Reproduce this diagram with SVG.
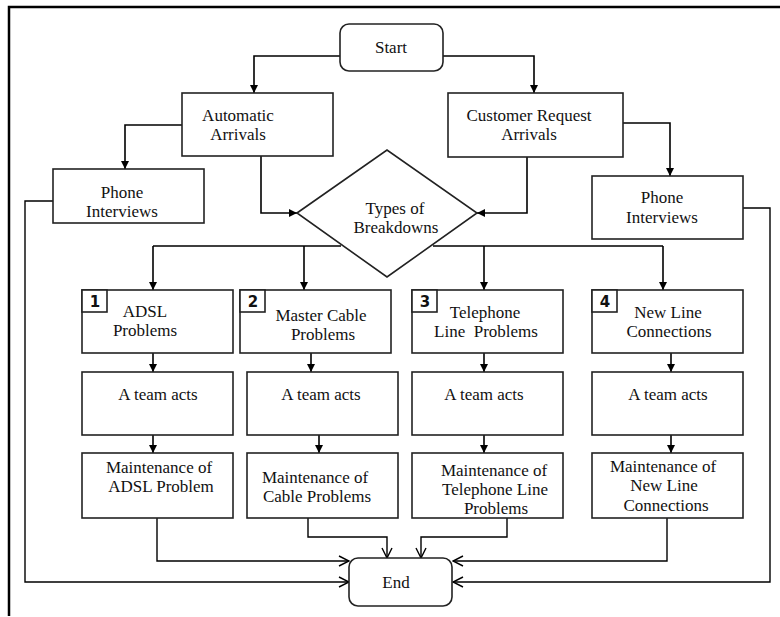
<svg xmlns="http://www.w3.org/2000/svg" width="780" height="617" viewBox="0 0 780 617">
<style>
.box{fill:#fff;stroke:#222;stroke-width:1.6}
.t{font-family:"Liberation Serif","Times New Roman",serif;font-size:17px;fill:#111;text-anchor:middle}
.num{font-family:"DejaVu Sans","Liberation Sans",sans-serif;font-weight:bold;font-size:15px;fill:#111;text-anchor:middle}
.c{fill:none;stroke:#000;stroke-width:1.6}
.ca{fill:none;stroke:#000;stroke-width:1.6;marker-end:url(#fa)}
.co{fill:none;stroke:#000;stroke-width:1.4;marker-end:url(#oa)}
</style>
<defs>
<marker id="fa" viewBox="0 0 10 10" refX="10" refY="5" markerWidth="9" markerHeight="8" orient="auto" markerUnits="userSpaceOnUse"><path d="M0,0 L10,5 L0,10 z" fill="#000"/></marker>
<marker id="oa" viewBox="0 0 12 12" refX="11" refY="6" markerWidth="12" markerHeight="12" orient="auto" markerUnits="userSpaceOnUse"><path d="M1,1 L11,6 L1,11" fill="none" stroke="#000" stroke-width="1.4"/></marker>
</defs>
<rect width="780" height="617" fill="#fff"/>
<g id="frame"><path d="M9,616 L9,7 L780,7" fill="none" stroke="#000" stroke-width="2.5"/></g>
<g id="connectors">
<path class="ca" d="M340,56 H254 V93"/>
<path class="ca" d="M443,56 H534 V93"/>
<path class="ca" d="M182,125 H125 V169"/>
<path class="ca" d="M623,123 H670 V176"/>
<path class="ca" d="M261,156 V213 H297"/>
<path class="ca" d="M527,157 V213 H477"/>
<path class="c" d="M153,246 H341 M433,246 H663"/>
<path class="ca" d="M153,246 V290"/>
<path class="ca" d="M304,246 V290"/>
<path class="ca" d="M484,246 V290"/>
<path class="ca" d="M663,246 V290"/>
<path class="ca" d="M153,353 V372"/>
<path class="ca" d="M311,353 V372"/>
<path class="ca" d="M484,353 V372"/>
<path class="ca" d="M671,353 V372"/>
<path class="ca" d="M153,435 V453"/>
<path class="ca" d="M319,435 V453"/>
<path class="ca" d="M484,435 V453"/>
<path class="ca" d="M671,435 V453"/>
<path class="co" d="M157,518 V561 H349"/>
<path class="co" d="M308,518 V537 H387 V558"/>
<path class="co" d="M507,518 V537 H421 V558"/>
<path class="co" d="M667,518 V561 H453"/>
<path class="co" d="M53,201 H25 V582 H349"/>
<path class="co" d="M743,208 H770 V582 H453"/>
</g>
<g id="start"><rect class="box" x="340" y="24" width="103" height="47" rx="9"/><text class="t" x="391" y="53">Start</text></g>
<g id="auto"><rect class="box" x="182" y="93" width="151" height="63"/><text class="t" x="238" y="121">Automatic</text><text class="t" x="238" y="140">Arrivals</text></g>
<g id="customer"><rect class="box" x="448" y="93" width="175" height="64"/><text class="t" x="529" y="121">Customer Request</text><text class="t" x="529" y="140">Arrivals</text></g>
<g id="phone-left"><rect class="box" x="53" y="169" width="151" height="54"/><text class="t" x="122" y="198">Phone</text><text class="t" x="122" y="217">Interviews</text></g>
<g id="phone-right"><rect class="box" x="592" y="176" width="151" height="63"/><text class="t" x="662" y="203">Phone</text><text class="t" x="662" y="223">Interviews</text></g>
<g id="types"><polygon class="box" points="297,213 387,150 477,213 387,277"/><text class="t" x="395" y="214">Types of</text><text class="t" x="396" y="233">Breakdowns</text></g>
<g id="p1"><rect class="box" x="82" y="290" width="151" height="63"/><rect class="box" x="82" y="290" width="25" height="22"/><text class="num" x="95" y="307">1</text><text class="t" x="145" y="317">ADSL</text><text class="t" x="145" y="336">Problems</text></g>
<g id="p2"><rect class="box" x="240" y="290" width="151" height="63"/><rect class="box" x="240" y="290" width="25" height="22"/><text class="num" x="253" y="307">2</text><text class="t" x="321" y="321">Master Cable</text><text class="t" x="323" y="340">Problems</text></g>
<g id="p3"><rect class="box" x="412" y="290" width="151" height="63"/><rect class="box" x="412" y="290" width="25" height="22"/><text class="num" x="425" y="307">3</text><text class="t" x="485" y="318">Telephone</text><text class="t" x="486" y="337" xml:space="preserve">Line  Problems</text></g>
<g id="p4"><rect class="box" x="592" y="290" width="151" height="63"/><rect class="box" x="592" y="290" width="25" height="22"/><text class="num" x="605" y="307">4</text><text class="t" x="668" y="318">New Line</text><text class="t" x="669" y="337">Connections</text></g>
<g id="team1"><rect class="box" x="82" y="372" width="151" height="63"/><text class="t" x="158" y="400">A team acts</text></g>
<g id="team2"><rect class="box" x="247" y="372" width="151" height="63"/><text class="t" x="321" y="400">A team acts</text></g>
<g id="team3"><rect class="box" x="412" y="372" width="151" height="63"/><text class="t" x="484" y="400">A team acts</text></g>
<g id="team4"><rect class="box" x="592" y="372" width="151" height="63"/><text class="t" x="668" y="400">A team acts</text></g>
<g id="m1"><rect class="box" x="82" y="453" width="151" height="65"/><text class="t" x="159" y="473">Maintenance of</text><text class="t" x="161" y="492">ADSL Problem</text></g>
<g id="m2"><rect class="box" x="247" y="453" width="151" height="65"/><text class="t" x="315" y="483">Maintenance of</text><text class="t" x="317" y="502">Cable Problems</text></g>
<g id="m3"><rect class="box" x="412" y="453" width="151" height="65"/><text class="t" x="494" y="476">Maintenance of</text><text class="t" x="495" y="495">Telephone Line</text><text class="t" x="496" y="514">Problems</text></g>
<g id="m4"><rect class="box" x="592" y="453" width="151" height="65"/><text class="t" x="663" y="472">Maintenance of</text><text class="t" x="664" y="491">New Line</text><text class="t" x="666" y="511">Connections</text></g>
<g id="end"><rect class="box" x="349" y="558" width="103" height="48" rx="9"/><text class="t" x="396" y="588">End</text></g>
</svg>
